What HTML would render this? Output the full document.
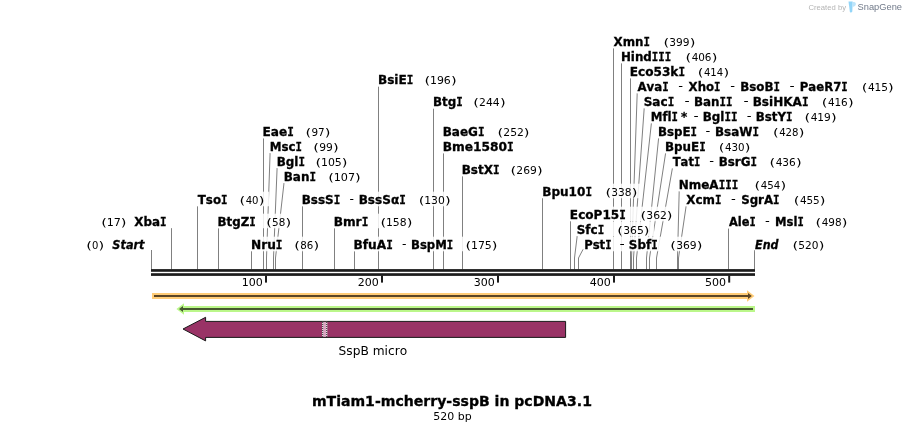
<!DOCTYPE html>
<html><head><meta charset="utf-8"><title>mTiam1-mcherry-sspB in pcDNA3.1</title>
<style>
html,body{margin:0;padding:0;background:#fff;}
body{width:906px;height:432px;overflow:hidden;}
svg{display:block;font-family:"DejaVu Sans","Liberation Sans",sans-serif;font-stretch:normal;font-kerning:none;font-variant-ligatures:none;}
.b{stroke:#000;stroke-width:0.3px;}
</style></head><body>
<svg width="906" height="432" viewBox="0 0 906 432">
<rect width="906" height="432" fill="#fff"/>

<g fill="none" stroke="#808080" stroke-width="1">
<path d="M151.50 250.00V269.5"/>
<path d="M171.50 228.00V269.5"/>
<path d="M197.50 206.20V269.5"/>
<path d="M218.50 228.20V269.5"/>
<path d="M251.50 251.20V269.5"/>
<path d="M263.50 138.25V269.5"/>
<path d="M270.10 153.00L266.50 258V269.5"/>
<path d="M277.10 168.00L273.50 258V269.5"/>
<path d="M284.00 183.00L275.50 258V269.5"/>
<path d="M302.50 206.20V269.5"/>
<path d="M334.50 228.20V269.5"/>
<path d="M354.50 251.20V269.5"/>
<path d="M378.50 86.50V269.5"/>
<path d="M433.50 108.50V269.5"/>
<path d="M443.50 153.25V269.5"/>
<path d="M462.50 176.20V269.5"/>
<path d="M542.50 198.20V269.5"/>
<path d="M570.50 221.20V269.5"/>
<path d="M577.20 236.00L574.50 258V269.5"/>
<path d="M583.10 249.30L578.50 258V269.5"/>
<path d="M613.50 48.25V269.5"/>
<path d="M621.50 63.25V269.5"/>
<path d="M630.50 78.25V269.5"/>
<path d="M637.20 93.25L631.50 258V269.5"/>
<path d="M644.20 108.25L633.50 258V269.5"/>
<path d="M651.40 123.25L636.50 258V269.5"/>
<path d="M658.60 138.25L646.50 258V269.5"/>
<path d="M665.60 153.25L649.50 258V269.5"/>
<path d="M672.40 168.25L656.50 258V269.5"/>
<path d="M679.20 191.25L677.50 258V269.5"/>
<path d="M686.10 206.25L678.50 258V269.5"/>
<path d="M728.50 228.50V269.5"/>
<path d="M754.50 250.00V269.5"/>
</g>
<g fill="#fff" fill-opacity="0.86">
<rect x="613.20" y="33.69" width="86.95" height="14.58"/>
<rect x="621.45" y="48.69" width="100.70" height="14.58"/>
<rect x="630.20" y="63.69" width="103.70" height="14.58"/>
<rect x="636.95" y="78.69" width="261.45" height="14.58"/>
<rect x="643.95" y="93.69" width="214.45" height="14.58"/>
<rect x="651.20" y="108.69" width="190.20" height="14.58"/>
<rect x="658.45" y="123.69" width="150.70" height="14.58"/>
<rect x="262.95" y="123.69" width="72.20" height="14.58"/>
<rect x="443.20" y="123.69" width="90.95" height="14.58"/>
<rect x="665.45" y="138.69" width="89.70" height="14.58"/>
<rect x="270.20" y="138.69" width="73.20" height="14.58"/>
<rect x="443.20" y="138.69" width="75.70" height="14.58"/>
<rect x="672.20" y="153.69" width="134.20" height="14.58"/>
<rect x="277.20" y="153.69" width="74.95" height="14.58"/>
<rect x="284.20" y="168.69" width="81.20" height="14.58"/>
<rect x="378.45" y="72.19" width="82.95" height="14.58"/>
<rect x="433.45" y="94.19" width="76.95" height="14.58"/>
<rect x="462.20" y="161.69" width="85.20" height="14.58"/>
<rect x="542.70" y="183.69" width="99.45" height="14.58"/>
<rect x="679.20" y="176.69" width="111.70" height="14.58"/>
<rect x="197.20" y="191.69" width="71.95" height="14.58"/>
<rect x="302.20" y="191.69" width="153.20" height="14.58"/>
<rect x="685.95" y="191.69" width="144.20" height="14.58"/>
<rect x="570.40" y="206.69" width="106.70" height="14.58"/>
<rect x="102.20" y="213.69" width="69.50" height="14.58"/>
<rect x="217.95" y="213.69" width="77.95" height="14.58"/>
<rect x="334.20" y="213.69" width="82.95" height="14.58"/>
<rect x="728.45" y="213.69" width="123.70" height="14.58"/>
<rect x="577.00" y="221.69" width="77.10" height="14.58"/>
<rect x="87.20" y="236.69" width="63.70" height="14.58"/>
<rect x="251.45" y="236.69" width="72.45" height="14.58"/>
<rect x="353.95" y="236.69" width="148.20" height="14.58"/>
<rect x="584.60" y="236.69" width="122.60" height="14.58"/>
<rect x="754.70" y="236.69" width="74.45" height="14.58"/>
</g>
<g>
<text y="45.75" font-size="12" font-weight="bold" class="b"><tspan x="613.57" textLength="29.95" lengthAdjust="spacingAndGlyphs">Xmn</tspan><tspan x="643.53" textLength="6.48" lengthAdjust="spacingAndGlyphs" font-family="&quot;DejaVu Sans Mono&quot;,&quot;Liberation Mono&quot;,monospace">I</tspan></text>
<text y="45.75" font-size="10.67"><tspan x="663.48" textLength="5.74" lengthAdjust="spacingAndGlyphs">(</tspan><tspan x="669.34" textLength="20.25" lengthAdjust="spacingAndGlyphs">399</tspan><tspan x="689.77" textLength="5.74" lengthAdjust="spacingAndGlyphs">)</tspan></text>
<text y="60.75" font-size="12" font-weight="bold" class="b"><tspan x="620.96" textLength="30.89" lengthAdjust="spacingAndGlyphs">Hind</tspan><tspan x="651.85" textLength="19.40" lengthAdjust="spacingAndGlyphs" font-family="&quot;DejaVu Sans Mono&quot;,&quot;Liberation Mono&quot;,monospace">III</tspan></text>
<text y="60.75" font-size="10.67"><tspan x="685.48" textLength="5.74" lengthAdjust="spacingAndGlyphs">(</tspan><tspan x="691.64" textLength="19.86" lengthAdjust="spacingAndGlyphs">406</tspan><tspan x="711.77" textLength="5.74" lengthAdjust="spacingAndGlyphs">)</tspan></text>
<text y="75.75" font-size="12" font-weight="bold" class="b"><tspan x="629.69" textLength="48.72" lengthAdjust="spacingAndGlyphs">Eco53k</tspan><tspan x="678.41" textLength="6.62" lengthAdjust="spacingAndGlyphs" font-family="&quot;DejaVu Sans Mono&quot;,&quot;Liberation Mono&quot;,monospace">I</tspan></text>
<text y="75.75" font-size="10.67"><tspan x="697.73" textLength="5.74" lengthAdjust="spacingAndGlyphs">(</tspan><tspan x="703.91" textLength="19.26" lengthAdjust="spacingAndGlyphs">414</tspan><tspan x="723.52" textLength="5.74" lengthAdjust="spacingAndGlyphs">)</tspan></text>
<text y="90.75" font-size="12" font-weight="bold" class="b"><tspan x="637.49" textLength="24.81" lengthAdjust="spacingAndGlyphs">Ava</tspan><tspan x="662.30" textLength="6.45" lengthAdjust="spacingAndGlyphs" font-family="&quot;DejaVu Sans Mono&quot;,&quot;Liberation Mono&quot;,monospace">I</tspan></text>
<text x="678.35" y="89.65" font-size="12" textLength="4.80" lengthAdjust="spacingAndGlyphs">-</text>
<text y="90.75" font-size="12" font-weight="bold" class="b"><tspan x="688.58" textLength="25.50" lengthAdjust="spacingAndGlyphs">Xho</tspan><tspan x="714.08" textLength="6.42" lengthAdjust="spacingAndGlyphs" font-family="&quot;DejaVu Sans Mono&quot;,&quot;Liberation Mono&quot;,monospace">I</tspan></text>
<text x="730.35" y="89.65" font-size="12" textLength="4.80" lengthAdjust="spacingAndGlyphs">-</text>
<text y="90.75" font-size="12" font-weight="bold" class="b"><tspan x="740.21" textLength="33.31" lengthAdjust="spacingAndGlyphs">BsoB</tspan><tspan x="773.52" textLength="6.48" lengthAdjust="spacingAndGlyphs" font-family="&quot;DejaVu Sans Mono&quot;,&quot;Liberation Mono&quot;,monospace">I</tspan></text>
<text x="789.55" y="89.65" font-size="12" textLength="5.14" lengthAdjust="spacingAndGlyphs">-</text>
<text y="90.75" font-size="12" font-weight="bold" class="b"><tspan x="799.72" textLength="41.62" lengthAdjust="spacingAndGlyphs">PaeR7</tspan><tspan x="841.34" textLength="6.40" lengthAdjust="spacingAndGlyphs" font-family="&quot;DejaVu Sans Mono&quot;,&quot;Liberation Mono&quot;,monospace">I</tspan></text>
<text y="90.75" font-size="10.67"><tspan x="861.73" textLength="5.74" lengthAdjust="spacingAndGlyphs">(</tspan><tspan x="867.88" textLength="20.14" lengthAdjust="spacingAndGlyphs">415</tspan><tspan x="888.02" textLength="5.74" lengthAdjust="spacingAndGlyphs">)</tspan></text>
<text y="105.75" font-size="12" font-weight="bold" class="b"><tspan x="643.68" textLength="23.99" lengthAdjust="spacingAndGlyphs">Sac</tspan><tspan x="667.68" textLength="6.59" lengthAdjust="spacingAndGlyphs" font-family="&quot;DejaVu Sans Mono&quot;,&quot;Liberation Mono&quot;,monospace">I</tspan></text>
<text x="684.55" y="104.65" font-size="12" textLength="5.14" lengthAdjust="spacingAndGlyphs">-</text>
<text y="105.75" font-size="12" font-weight="bold" class="b"><tspan x="693.96" textLength="25.56" lengthAdjust="spacingAndGlyphs">Ban</tspan><tspan x="719.52" textLength="12.99" lengthAdjust="spacingAndGlyphs" font-family="&quot;DejaVu Sans Mono&quot;,&quot;Liberation Mono&quot;,monospace">II</tspan></text>
<text x="743.55" y="104.65" font-size="12" textLength="5.14" lengthAdjust="spacingAndGlyphs">-</text>
<text y="105.75" font-size="12" font-weight="bold" class="b"><tspan x="752.69" textLength="49.24" lengthAdjust="spacingAndGlyphs">BsiHKA</tspan><tspan x="801.94" textLength="6.58" lengthAdjust="spacingAndGlyphs" font-family="&quot;DejaVu Sans Mono&quot;,&quot;Liberation Mono&quot;,monospace">I</tspan></text>
<text y="105.75" font-size="10.67"><tspan x="821.73" textLength="5.74" lengthAdjust="spacingAndGlyphs">(</tspan><tspan x="827.89" textLength="19.86" lengthAdjust="spacingAndGlyphs">416</tspan><tspan x="848.02" textLength="5.74" lengthAdjust="spacingAndGlyphs">)</tspan></text>
<text y="120.75" font-size="12" font-weight="bold" class="b"><tspan x="650.72" textLength="20.85" lengthAdjust="spacingAndGlyphs">Mfl</tspan><tspan x="671.57" textLength="6.42" lengthAdjust="spacingAndGlyphs" font-family="&quot;DejaVu Sans Mono&quot;,&quot;Liberation Mono&quot;,monospace">I</tspan></text>
<text x="681.06" y="120.75" font-size="12" font-weight="bold" class="b" textLength="6.28" lengthAdjust="spacingAndGlyphs">*</text>
<text x="693.55" y="119.65" font-size="12" textLength="5.14" lengthAdjust="spacingAndGlyphs">-</text>
<text y="120.75" font-size="12" font-weight="bold" class="b"><tspan x="702.70" textLength="21.76" lengthAdjust="spacingAndGlyphs">Bgl</tspan><tspan x="724.46" textLength="13.05" lengthAdjust="spacingAndGlyphs" font-family="&quot;DejaVu Sans Mono&quot;,&quot;Liberation Mono&quot;,monospace">II</tspan></text>
<text x="746.85" y="119.65" font-size="12" textLength="4.80" lengthAdjust="spacingAndGlyphs">-</text>
<text y="120.75" font-size="12" font-weight="bold" class="b"><tspan x="755.71" textLength="30.32" lengthAdjust="spacingAndGlyphs">BstY</tspan><tspan x="786.03" textLength="6.47" lengthAdjust="spacingAndGlyphs" font-family="&quot;DejaVu Sans Mono&quot;,&quot;Liberation Mono&quot;,monospace">I</tspan></text>
<text y="120.75" font-size="10.67"><tspan x="804.48" textLength="5.74" lengthAdjust="spacingAndGlyphs">(</tspan><tspan x="810.63" textLength="20.21" lengthAdjust="spacingAndGlyphs">419</tspan><tspan x="831.02" textLength="5.74" lengthAdjust="spacingAndGlyphs">)</tspan></text>
<text y="135.75" font-size="12" font-weight="bold" class="b"><tspan x="657.96" textLength="32.58" lengthAdjust="spacingAndGlyphs">BspE</tspan><tspan x="690.55" textLength="6.45" lengthAdjust="spacingAndGlyphs" font-family="&quot;DejaVu Sans Mono&quot;,&quot;Liberation Mono&quot;,monospace">I</tspan></text>
<text x="705.60" y="134.65" font-size="12" textLength="4.80" lengthAdjust="spacingAndGlyphs">-</text>
<text y="135.75" font-size="12" font-weight="bold" class="b"><tspan x="714.95" textLength="37.53" lengthAdjust="spacingAndGlyphs">BsaW</tspan><tspan x="752.48" textLength="6.53" lengthAdjust="spacingAndGlyphs" font-family="&quot;DejaVu Sans Mono&quot;,&quot;Liberation Mono&quot;,monospace">I</tspan></text>
<text y="135.75" font-size="10.67"><tspan x="772.98" textLength="5.74" lengthAdjust="spacingAndGlyphs">(</tspan><tspan x="779.15" textLength="19.39" lengthAdjust="spacingAndGlyphs">428</tspan><tspan x="798.77" textLength="5.74" lengthAdjust="spacingAndGlyphs">)</tspan></text>
<text y="135.75" font-size="12" font-weight="bold" class="b"><tspan x="262.44" textLength="24.71" lengthAdjust="spacingAndGlyphs">Eae</tspan><tspan x="287.15" textLength="6.63" lengthAdjust="spacingAndGlyphs" font-family="&quot;DejaVu Sans Mono&quot;,&quot;Liberation Mono&quot;,monospace">I</tspan></text>
<text y="135.75" font-size="10.67"><tspan x="305.48" textLength="5.74" lengthAdjust="spacingAndGlyphs">(</tspan><tspan x="311.49" textLength="13.25" lengthAdjust="spacingAndGlyphs">97</tspan><tspan x="324.77" textLength="5.74" lengthAdjust="spacingAndGlyphs">)</tspan></text>
<text y="135.75" font-size="12" font-weight="bold" class="b"><tspan x="442.70" textLength="35.26" lengthAdjust="spacingAndGlyphs">BaeG</tspan><tspan x="477.96" textLength="6.56" lengthAdjust="spacingAndGlyphs" font-family="&quot;DejaVu Sans Mono&quot;,&quot;Liberation Mono&quot;,monospace">I</tspan></text>
<text y="135.75" font-size="10.67"><tspan x="497.48" textLength="5.74" lengthAdjust="spacingAndGlyphs">(</tspan><tspan x="503.36" textLength="20.57" lengthAdjust="spacingAndGlyphs">252</tspan><tspan x="523.77" textLength="5.74" lengthAdjust="spacingAndGlyphs">)</tspan></text>
<text y="150.75" font-size="12" font-weight="bold" class="b"><tspan x="664.95" textLength="34.29" lengthAdjust="spacingAndGlyphs">BpuE</tspan><tspan x="699.24" textLength="6.52" lengthAdjust="spacingAndGlyphs" font-family="&quot;DejaVu Sans Mono&quot;,&quot;Liberation Mono&quot;,monospace">I</tspan></text>
<text y="150.75" font-size="10.67"><tspan x="718.73" textLength="5.74" lengthAdjust="spacingAndGlyphs">(</tspan><tspan x="724.90" textLength="19.64" lengthAdjust="spacingAndGlyphs">430</tspan><tspan x="744.77" textLength="5.74" lengthAdjust="spacingAndGlyphs">)</tspan></text>
<text y="150.75" font-size="12" font-weight="bold" class="b"><tspan x="269.71" textLength="25.83" lengthAdjust="spacingAndGlyphs">Msc</tspan><tspan x="295.54" textLength="6.46" lengthAdjust="spacingAndGlyphs" font-family="&quot;DejaVu Sans Mono&quot;,&quot;Liberation Mono&quot;,monospace">I</tspan></text>
<text y="150.75" font-size="10.67"><tspan x="313.23" textLength="5.74" lengthAdjust="spacingAndGlyphs">(</tspan><tspan x="319.23" textLength="13.63" lengthAdjust="spacingAndGlyphs">99</tspan><tspan x="333.02" textLength="5.74" lengthAdjust="spacingAndGlyphs">)</tspan></text>
<text y="150.75" font-size="12" font-weight="bold" class="b"><tspan x="442.68" textLength="64.42" lengthAdjust="spacingAndGlyphs">Bme1580</tspan><tspan x="507.10" textLength="6.68" lengthAdjust="spacingAndGlyphs" font-family="&quot;DejaVu Sans Mono&quot;,&quot;Liberation Mono&quot;,monospace">I</tspan></text>
<text y="165.75" font-size="12" font-weight="bold" class="b"><tspan x="672.74" textLength="21.18" lengthAdjust="spacingAndGlyphs">Tat</tspan><tspan x="693.93" textLength="6.30" lengthAdjust="spacingAndGlyphs" font-family="&quot;DejaVu Sans Mono&quot;,&quot;Liberation Mono&quot;,monospace">I</tspan></text>
<text x="709.35" y="164.65" font-size="12" textLength="4.80" lengthAdjust="spacingAndGlyphs">-</text>
<text y="165.75" font-size="12" font-weight="bold" class="b"><tspan x="718.71" textLength="31.80" lengthAdjust="spacingAndGlyphs">BsrG</tspan><tspan x="750.51" textLength="6.50" lengthAdjust="spacingAndGlyphs" font-family="&quot;DejaVu Sans Mono&quot;,&quot;Liberation Mono&quot;,monospace">I</tspan></text>
<text y="165.75" font-size="10.67"><tspan x="769.48" textLength="5.74" lengthAdjust="spacingAndGlyphs">(</tspan><tspan x="775.64" textLength="20.13" lengthAdjust="spacingAndGlyphs">436</tspan><tspan x="796.02" textLength="5.74" lengthAdjust="spacingAndGlyphs">)</tspan></text>
<text y="165.75" font-size="12" font-weight="bold" class="b"><tspan x="276.70" textLength="21.78" lengthAdjust="spacingAndGlyphs">Bgl</tspan><tspan x="298.48" textLength="6.53" lengthAdjust="spacingAndGlyphs" font-family="&quot;DejaVu Sans Mono&quot;,&quot;Liberation Mono&quot;,monospace">I</tspan></text>
<text y="165.75" font-size="10.67"><tspan x="315.48" textLength="5.74" lengthAdjust="spacingAndGlyphs">(</tspan><tspan x="320.95" textLength="20.86" lengthAdjust="spacingAndGlyphs">105</tspan><tspan x="341.77" textLength="5.74" lengthAdjust="spacingAndGlyphs">)</tspan></text>
<text y="180.75" font-size="12" font-weight="bold" class="b"><tspan x="283.70" textLength="25.77" lengthAdjust="spacingAndGlyphs">Ban</tspan><tspan x="309.47" textLength="6.55" lengthAdjust="spacingAndGlyphs" font-family="&quot;DejaVu Sans Mono&quot;,&quot;Liberation Mono&quot;,monospace">I</tspan></text>
<text y="180.75" font-size="10.67"><tspan x="328.23" textLength="5.74" lengthAdjust="spacingAndGlyphs">(</tspan><tspan x="333.67" textLength="21.39" lengthAdjust="spacingAndGlyphs">107</tspan><tspan x="355.02" textLength="5.74" lengthAdjust="spacingAndGlyphs">)</tspan></text>
<text y="84.25" font-size="12" font-weight="bold" class="b"><tspan x="377.94" textLength="28.74" lengthAdjust="spacingAndGlyphs">BsiE</tspan><tspan x="406.68" textLength="6.58" lengthAdjust="spacingAndGlyphs" font-family="&quot;DejaVu Sans Mono&quot;,&quot;Liberation Mono&quot;,monospace">I</tspan></text>
<text y="84.25" font-size="10.67"><tspan x="424.48" textLength="5.74" lengthAdjust="spacingAndGlyphs">(</tspan><tspan x="429.95" textLength="20.84" lengthAdjust="spacingAndGlyphs">196</tspan><tspan x="451.02" textLength="5.74" lengthAdjust="spacingAndGlyphs">)</tspan></text>
<text y="106.25" font-size="12" font-weight="bold" class="b"><tspan x="432.96" textLength="23.30" lengthAdjust="spacingAndGlyphs">Btg</tspan><tspan x="456.25" textLength="6.50" lengthAdjust="spacingAndGlyphs" font-family="&quot;DejaVu Sans Mono&quot;,&quot;Liberation Mono&quot;,monospace">I</tspan></text>
<text y="106.25" font-size="10.67"><tspan x="473.23" textLength="5.74" lengthAdjust="spacingAndGlyphs">(</tspan><tspan x="479.11" textLength="20.60" lengthAdjust="spacingAndGlyphs">244</tspan><tspan x="500.02" textLength="5.74" lengthAdjust="spacingAndGlyphs">)</tspan></text>
<text y="173.75" font-size="12" font-weight="bold" class="b"><tspan x="461.70" textLength="31.27" lengthAdjust="spacingAndGlyphs">BstX</tspan><tspan x="492.96" textLength="6.55" lengthAdjust="spacingAndGlyphs" font-family="&quot;DejaVu Sans Mono&quot;,&quot;Liberation Mono&quot;,monospace">I</tspan></text>
<text y="173.75" font-size="10.67"><tspan x="510.48" textLength="5.74" lengthAdjust="spacingAndGlyphs">(</tspan><tspan x="516.36" textLength="20.49" lengthAdjust="spacingAndGlyphs">269</tspan><tspan x="537.02" textLength="5.74" lengthAdjust="spacingAndGlyphs">)</tspan></text>
<text y="195.75" font-size="12" font-weight="bold" class="b"><tspan x="542.19" textLength="43.24" lengthAdjust="spacingAndGlyphs">Bpu10</tspan><tspan x="585.43" textLength="6.59" lengthAdjust="spacingAndGlyphs" font-family="&quot;DejaVu Sans Mono&quot;,&quot;Liberation Mono&quot;,monospace">I</tspan></text>
<text y="195.75" font-size="10.67"><tspan x="605.48" textLength="5.74" lengthAdjust="spacingAndGlyphs">(</tspan><tspan x="611.34" textLength="20.23" lengthAdjust="spacingAndGlyphs">338</tspan><tspan x="631.77" textLength="5.74" lengthAdjust="spacingAndGlyphs">)</tspan></text>
<text y="188.75" font-size="12" font-weight="bold" class="b"><tspan x="678.70" textLength="39.93" lengthAdjust="spacingAndGlyphs">NmeA</tspan><tspan x="718.63" textLength="19.63" lengthAdjust="spacingAndGlyphs" font-family="&quot;DejaVu Sans Mono&quot;,&quot;Liberation Mono&quot;,monospace">III</tspan></text>
<text y="188.75" font-size="10.67"><tspan x="754.48" textLength="5.74" lengthAdjust="spacingAndGlyphs">(</tspan><tspan x="760.65" textLength="19.52" lengthAdjust="spacingAndGlyphs">454</tspan><tspan x="780.52" textLength="5.74" lengthAdjust="spacingAndGlyphs">)</tspan></text>
<text y="203.75" font-size="12" font-weight="bold" class="b"><tspan x="197.74" textLength="23.29" lengthAdjust="spacingAndGlyphs">Tso</tspan><tspan x="221.03" textLength="6.47" lengthAdjust="spacingAndGlyphs" font-family="&quot;DejaVu Sans Mono&quot;,&quot;Liberation Mono&quot;,monospace">I</tspan></text>
<text y="203.75" font-size="10.67"><tspan x="239.48" textLength="5.74" lengthAdjust="spacingAndGlyphs">(</tspan><tspan x="245.66" textLength="12.87" lengthAdjust="spacingAndGlyphs">40</tspan><tspan x="258.77" textLength="5.74" lengthAdjust="spacingAndGlyphs">)</tspan></text>
<text y="203.75" font-size="12" font-weight="bold" class="b"><tspan x="301.70" textLength="32.02" lengthAdjust="spacingAndGlyphs">BssS</tspan><tspan x="333.72" textLength="6.54" lengthAdjust="spacingAndGlyphs" font-family="&quot;DejaVu Sans Mono&quot;,&quot;Liberation Mono&quot;,monospace">I</tspan></text>
<text x="349.40" y="202.65" font-size="12" textLength="4.46" lengthAdjust="spacingAndGlyphs">-</text>
<text y="203.75" font-size="12" font-weight="bold" class="b"><tspan x="358.69" textLength="40.49" lengthAdjust="spacingAndGlyphs">BssSα</tspan><tspan x="399.19" textLength="6.58" lengthAdjust="spacingAndGlyphs" font-family="&quot;DejaVu Sans Mono&quot;,&quot;Liberation Mono&quot;,monospace">I</tspan></text>
<text y="203.75" font-size="10.67"><tspan x="418.73" textLength="5.74" lengthAdjust="spacingAndGlyphs">(</tspan><tspan x="424.21" textLength="20.60" lengthAdjust="spacingAndGlyphs">130</tspan><tspan x="445.02" textLength="5.74" lengthAdjust="spacingAndGlyphs">)</tspan></text>
<text y="203.75" font-size="12" font-weight="bold" class="b"><tspan x="686.32" textLength="28.68" lengthAdjust="spacingAndGlyphs">Xcm</tspan><tspan x="715.00" textLength="6.51" lengthAdjust="spacingAndGlyphs" font-family="&quot;DejaVu Sans Mono&quot;,&quot;Liberation Mono&quot;,monospace">I</tspan></text>
<text x="731.10" y="202.65" font-size="12" textLength="4.80" lengthAdjust="spacingAndGlyphs">-</text>
<text y="203.75" font-size="12" font-weight="bold" class="b"><tspan x="741.20" textLength="31.86" lengthAdjust="spacingAndGlyphs">SgrA</tspan><tspan x="773.06" textLength="6.44" lengthAdjust="spacingAndGlyphs" font-family="&quot;DejaVu Sans Mono&quot;,&quot;Liberation Mono&quot;,monospace">I</tspan></text>
<text y="203.75" font-size="10.67"><tspan x="793.73" textLength="5.74" lengthAdjust="spacingAndGlyphs">(</tspan><tspan x="799.89" textLength="19.87" lengthAdjust="spacingAndGlyphs">455</tspan><tspan x="819.77" textLength="5.74" lengthAdjust="spacingAndGlyphs">)</tspan></text>
<text y="218.75" font-size="12" font-weight="bold" class="b"><tspan x="569.89" textLength="49.38" lengthAdjust="spacingAndGlyphs">EcoP15</tspan><tspan x="619.27" textLength="6.60" lengthAdjust="spacingAndGlyphs" font-family="&quot;DejaVu Sans Mono&quot;,&quot;Liberation Mono&quot;,monospace">I</tspan></text>
<text y="218.75" font-size="10.67"><tspan x="640.43" textLength="5.74" lengthAdjust="spacingAndGlyphs">(</tspan><tspan x="646.28" textLength="20.60" lengthAdjust="spacingAndGlyphs">362</tspan><tspan x="666.72" textLength="5.74" lengthAdjust="spacingAndGlyphs">)</tspan></text>
<text y="225.75" font-size="10.67"><tspan x="101.23" textLength="5.74" lengthAdjust="spacingAndGlyphs">(</tspan><tspan x="106.68" textLength="14.18" lengthAdjust="spacingAndGlyphs">17</tspan><tspan x="120.82" textLength="5.74" lengthAdjust="spacingAndGlyphs">)</tspan></text>
<text y="225.75" font-size="12" font-weight="bold" class="b"><tspan x="134.27" textLength="25.77" lengthAdjust="spacingAndGlyphs">Xba</tspan><tspan x="160.05" textLength="6.51" lengthAdjust="spacingAndGlyphs" font-family="&quot;DejaVu Sans Mono&quot;,&quot;Liberation Mono&quot;,monospace">I</tspan></text>
<text y="225.75" font-size="12" font-weight="bold" class="b"><tspan x="217.46" textLength="31.81" lengthAdjust="spacingAndGlyphs">BtgZ</tspan><tspan x="249.27" textLength="6.48" lengthAdjust="spacingAndGlyphs" font-family="&quot;DejaVu Sans Mono&quot;,&quot;Liberation Mono&quot;,monospace">I</tspan></text>
<text y="225.75" font-size="10.67"><tspan x="266.23" textLength="5.74" lengthAdjust="spacingAndGlyphs">(</tspan><tspan x="272.10" textLength="13.21" lengthAdjust="spacingAndGlyphs">58</tspan><tspan x="285.52" textLength="5.74" lengthAdjust="spacingAndGlyphs">)</tspan></text>
<text y="225.75" font-size="12" font-weight="bold" class="b"><tspan x="333.68" textLength="27.95" lengthAdjust="spacingAndGlyphs">Bmr</tspan><tspan x="361.63" textLength="6.64" lengthAdjust="spacingAndGlyphs" font-family="&quot;DejaVu Sans Mono&quot;,&quot;Liberation Mono&quot;,monospace">I</tspan></text>
<text y="225.75" font-size="10.67"><tspan x="380.48" textLength="5.74" lengthAdjust="spacingAndGlyphs">(</tspan><tspan x="385.96" textLength="20.63" lengthAdjust="spacingAndGlyphs">158</tspan><tspan x="406.77" textLength="5.74" lengthAdjust="spacingAndGlyphs">)</tspan></text>
<text y="225.75" font-size="12" font-weight="bold" class="b"><tspan x="728.99" textLength="20.49" lengthAdjust="spacingAndGlyphs">Ale</tspan><tspan x="749.49" textLength="6.23" lengthAdjust="spacingAndGlyphs" font-family="&quot;DejaVu Sans Mono&quot;,&quot;Liberation Mono&quot;,monospace">I</tspan></text>
<text x="765.10" y="224.65" font-size="12" textLength="4.80" lengthAdjust="spacingAndGlyphs">-</text>
<text y="225.75" font-size="12" font-weight="bold" class="b"><tspan x="774.99" textLength="22.42" lengthAdjust="spacingAndGlyphs">Msl</tspan><tspan x="797.40" textLength="6.33" lengthAdjust="spacingAndGlyphs" font-family="&quot;DejaVu Sans Mono&quot;,&quot;Liberation Mono&quot;,monospace">I</tspan></text>
<text y="225.75" font-size="10.67"><tspan x="815.48" textLength="5.74" lengthAdjust="spacingAndGlyphs">(</tspan><tspan x="821.64" textLength="19.92" lengthAdjust="spacingAndGlyphs">498</tspan><tspan x="841.77" textLength="5.74" lengthAdjust="spacingAndGlyphs">)</tspan></text>
<text y="233.75" font-size="12" font-weight="bold" class="b"><tspan x="576.74" textLength="20.89" lengthAdjust="spacingAndGlyphs">Sfc</tspan><tspan x="597.63" textLength="6.53" lengthAdjust="spacingAndGlyphs" font-family="&quot;DejaVu Sans Mono&quot;,&quot;Liberation Mono&quot;,monospace">I</tspan></text>
<text y="233.75" font-size="10.67"><tspan x="617.33" textLength="5.74" lengthAdjust="spacingAndGlyphs">(</tspan><tspan x="623.18" textLength="20.56" lengthAdjust="spacingAndGlyphs">365</tspan><tspan x="643.72" textLength="5.74" lengthAdjust="spacingAndGlyphs">)</tspan></text>
<text y="248.75" font-size="10.67"><tspan x="86.23" textLength="5.74" lengthAdjust="spacingAndGlyphs">(</tspan><tspan x="92.06" textLength="6.38" lengthAdjust="spacingAndGlyphs">0</tspan><tspan x="98.52" textLength="5.74" lengthAdjust="spacingAndGlyphs">)</tspan></text>
<text x="112.33" y="248.75" font-size="12" font-weight="bold" font-style="italic" class="b" textLength="32.17" lengthAdjust="spacingAndGlyphs">Start</text>
<text y="248.75" font-size="12" font-weight="bold" class="b"><tspan x="250.93" textLength="24.93" lengthAdjust="spacingAndGlyphs">Nru</tspan><tspan x="275.86" textLength="6.67" lengthAdjust="spacingAndGlyphs" font-family="&quot;DejaVu Sans Mono&quot;,&quot;Liberation Mono&quot;,monospace">I</tspan></text>
<text y="248.75" font-size="10.67"><tspan x="294.23" textLength="5.74" lengthAdjust="spacingAndGlyphs">(</tspan><tspan x="300.20" textLength="13.04" lengthAdjust="spacingAndGlyphs">86</tspan><tspan x="313.52" textLength="5.74" lengthAdjust="spacingAndGlyphs">)</tspan></text>
<text y="248.75" font-size="12" font-weight="bold" class="b"><tspan x="353.43" textLength="32.69" lengthAdjust="spacingAndGlyphs">BfuA</tspan><tspan x="386.13" textLength="6.65" lengthAdjust="spacingAndGlyphs" font-family="&quot;DejaVu Sans Mono&quot;,&quot;Liberation Mono&quot;,monospace">I</tspan></text>
<text x="401.90" y="247.65" font-size="12" textLength="4.46" lengthAdjust="spacingAndGlyphs">-</text>
<text y="248.75" font-size="12" font-weight="bold" class="b"><tspan x="410.98" textLength="35.88" lengthAdjust="spacingAndGlyphs">BspM</tspan><tspan x="446.86" textLength="6.38" lengthAdjust="spacingAndGlyphs" font-family="&quot;DejaVu Sans Mono&quot;,&quot;Liberation Mono&quot;,monospace">I</tspan></text>
<text y="248.75" font-size="10.67"><tspan x="465.48" textLength="5.74" lengthAdjust="spacingAndGlyphs">(</tspan><tspan x="470.95" textLength="20.86" lengthAdjust="spacingAndGlyphs">175</tspan><tspan x="491.77" textLength="5.74" lengthAdjust="spacingAndGlyphs">)</tspan></text>
<text y="248.75" font-size="12" font-weight="bold" class="b"><tspan x="584.13" textLength="21.05" lengthAdjust="spacingAndGlyphs">Pst</tspan><tspan x="605.18" textLength="6.36" lengthAdjust="spacingAndGlyphs" font-family="&quot;DejaVu Sans Mono&quot;,&quot;Liberation Mono&quot;,monospace">I</tspan></text>
<text x="619.49" y="247.65" font-size="12" textLength="5.21" lengthAdjust="spacingAndGlyphs">-</text>
<text y="248.75" font-size="12" font-weight="bold" class="b"><tspan x="628.84" textLength="22.39" lengthAdjust="spacingAndGlyphs">Sbf</tspan><tspan x="651.23" textLength="6.53" lengthAdjust="spacingAndGlyphs" font-family="&quot;DejaVu Sans Mono&quot;,&quot;Liberation Mono&quot;,monospace">I</tspan></text>
<text y="248.75" font-size="10.67"><tspan x="670.33" textLength="5.74" lengthAdjust="spacingAndGlyphs">(</tspan><tspan x="676.18" textLength="20.47" lengthAdjust="spacingAndGlyphs">369</tspan><tspan x="696.82" textLength="5.74" lengthAdjust="spacingAndGlyphs">)</tspan></text>
<text x="755.07" y="248.75" font-size="12" font-weight="bold" font-style="italic" class="b" textLength="23.44" lengthAdjust="spacingAndGlyphs">End</text>
<text y="248.75" font-size="10.67"><tspan x="792.48" textLength="5.74" lengthAdjust="spacingAndGlyphs">(</tspan><tspan x="798.33" textLength="20.22" lengthAdjust="spacingAndGlyphs">520</tspan><tspan x="818.77" textLength="5.74" lengthAdjust="spacingAndGlyphs">)</tspan></text>
</g>
<rect x="151" y="269.1" width="604" height="2.7" fill="#1c1c1c"/>
<rect x="151" y="273.2" width="604" height="2.7" fill="#1c1c1c"/>
<rect x="265.00" y="275.5" width="2" height="7.1" fill="#1c1c1c"/>
<text x="241.75" y="285.60" font-size="10.67" textLength="21.09" lengthAdjust="spacingAndGlyphs">100</text>
<rect x="381.00" y="275.5" width="2" height="7.1" fill="#1c1c1c"/>
<text x="357.75" y="285.60" font-size="10.67" textLength="21.09" lengthAdjust="spacingAndGlyphs">200</text>
<rect x="497.00" y="275.5" width="2" height="7.1" fill="#1c1c1c"/>
<text x="473.75" y="285.60" font-size="10.67" textLength="21.09" lengthAdjust="spacingAndGlyphs">300</text>
<rect x="613.00" y="275.5" width="2" height="7.1" fill="#1c1c1c"/>
<text x="589.75" y="285.60" font-size="10.67" textLength="21.09" lengthAdjust="spacingAndGlyphs">400</text>
<rect x="728.20" y="275.5" width="2" height="7.1" fill="#1c1c1c"/>
<text x="704.95" y="285.60" font-size="10.67" textLength="21.09" lengthAdjust="spacingAndGlyphs">500</text>
<path d="M152 293H747V290.2L754.5 296L747 301.8V299H152Z" fill="#ffcc77"/>
<path d="M154 295H748V293L751.8 296L748 299V297H154Z" fill="#5a4526"/>
<path d="M755 306H184V303.3L176.4 309L184 314.7V312H755Z" fill="#bbf78a"/>
<path d="M753 308H183V306L179 309L183 312V310H753Z" fill="#46582f"/>
<path d="M183.0 329L205.6 317.3V321.4H565.6V337.4H205.6V340.9Z" fill="#993366" stroke="#1a1a1a" stroke-width="1" stroke-linejoin="miter"/>
<rect x="322.2" y="321.9" width="5" height="15" fill="#d9a3c0"/>
<path d="M322.7 321.9V337" stroke="#fff" stroke-width="1" fill="none"/><path d="M322.7 321.9V337" stroke="#111" stroke-width="1" stroke-dasharray="1 1" fill="none"/>
<path d="M326.7 321.9V337" stroke="#fff" stroke-width="1" fill="none"/><path d="M326.7 321.9V337" stroke="#111" stroke-width="1" stroke-dasharray="1 1" fill="none"/>
<text x="338.60" y="355.00" font-size="12" textLength="68.57" lengthAdjust="spacingAndGlyphs">SspB micro</text>
<text x="311.93" y="405.70" font-size="13.33" font-weight="bold" class="b" textLength="279.99" lengthAdjust="spacingAndGlyphs">mTiam1-mcherry-sspB in pcDNA3.1</text>
<text x="433.25" y="419.50" font-size="10.67" textLength="38.35" lengthAdjust="spacingAndGlyphs">520 bp</text>
<g font-family="&quot;Liberation Sans&quot;,sans-serif">
<text x="808.5" y="10.2" font-size="7.4" fill="#b4b4b4" textLength="37.5" lengthAdjust="spacingAndGlyphs">Created by</text>
<path d="M848.5 1.5H852.7L852.3 11.6Q851.2 13.2 849.9 11.9Z" fill="#93d5f8"/><path d="M852.7 1.9H854.3Q856 2.2 855.9 4Q855.7 6.3 852.5 7Z" fill="#bde5fb"/>
<text x="857.6" y="10.3" font-size="9.4" fill="#717a8a" textLength="44.4" lengthAdjust="spacingAndGlyphs">SnapGene</text>
</g>
</svg></body></html>
